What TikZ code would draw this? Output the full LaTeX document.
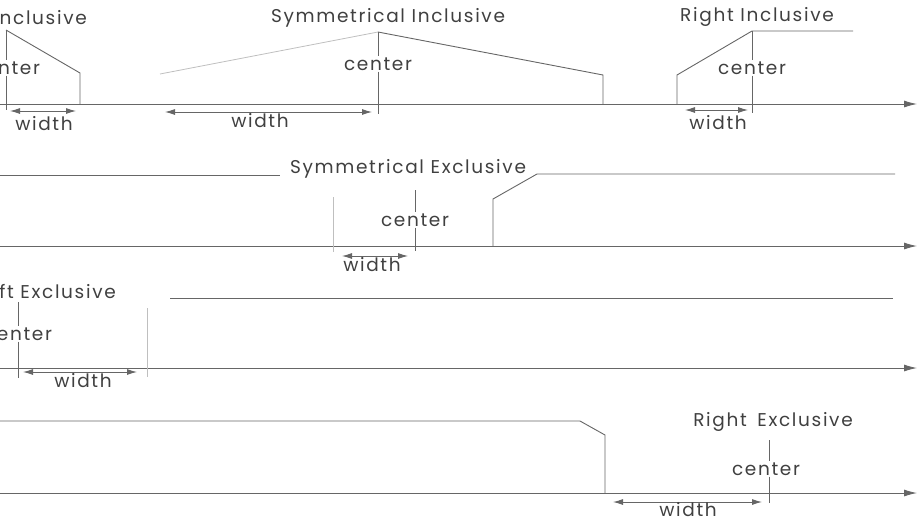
\documentclass[tikz,border=0pt]{standalone}
\usepackage{fontspec}
\setmainfont{Poppins}
\newfontfamily\lblfont[LetterSpace=9]{Poppins}
\usetikzlibrary{arrows.meta}
\begin{document}
\begin{tikzpicture}[x=1pt,y=-1pt,
  ln/.style={draw=black!60, line width=0.9pt},
  faint/.style={draw=black!25, line width=0.8pt},
  axis/.style={ln, -{Latex[length=13pt,width=7pt]}},
  dim/.style={ln, {Latex[length=10pt,width=6pt]}-{Latex[length=10pt,width=6pt]}},
  lbl/.style={font=\lblfont\fontsize{18.5}{18.5}\selectfont, text=black!75, inner sep=1pt},
  ]
\useasboundingbox (0,0) rectangle (917,520);
\clip (0,0) rectangle (917,520);

% ---------- Row 1 ----------
\coordinate (a1s) at (0,104); \coordinate (a1e) at (917,104);
\draw[axis] (a1s) -- (a1e);

% Left Inclusive
\node[lbl, anchor=east] (liT) at (88,18) {Left Inclusive};
\coordinate (liP) at (6,30); \coordinate (liR) at (80,73); \coordinate (liRb) at (80,104);
\draw[ln] (liP) -- (liR) -- (liRb);
\node[lbl] (liC) at (6,68) {center};
\coordinate (liB) at (6,110);
\draw[ln] (liP) -- (liC.north);
\draw[ln] (liC.south) -- (liB);
\coordinate (liW1) at (10,111); \coordinate (liW2) at (76,111);
\draw[dim] (liW1) -- (liW2);
\node[lbl] (liW) at (44,124) {width};

% Symmetrical Inclusive
\node[lbl] (siT) at (388,18) {Symmetrical Inclusive};
\coordinate (siL) at (160,74); \coordinate (siP) at (378,32);
\coordinate (siR) at (603,75); \coordinate (siRb) at (603,104);
\draw[faint] (siL) -- (siP);
\draw[ln] (siP) -- (siR) -- (siRb);
\node[lbl] (siC) at (378,64) {center};
\coordinate (siB) at (378,114);
\draw[ln] (siP) -- (siC.north);
\draw[ln] (siC.south) -- (siB);
\coordinate (siW1) at (165,112); \coordinate (siW2) at (372,112);
\draw[dim] (siW1) -- (siW2);
\node[lbl] (siW) at (260,121) {width};

% Right Inclusive
\node[lbl] (riT) at (757,17) {Right Inclusive};
\coordinate (riB) at (677,104); \coordinate (riL) at (677,75);
\coordinate (riP) at (752,31); \coordinate (riE) at (853,31);
\draw[ln] (riB) -- (riL) -- (riP) -- (riE);
\node[lbl] (riC) at (752,68) {center};
\coordinate (riBt) at (752,113);
\draw[ln] (riP) -- (riC.north);
\draw[ln] (riC.south) -- (riBt);
\coordinate (riW1) at (685,110); \coordinate (riW2) at (748,110);
\draw[dim] (riW1) -- (riW2);
\node[lbl] (riW) at (718,123) {width};

% ---------- Row 2 ----------
\coordinate (a2s) at (0,246); \coordinate (a2e) at (917,246);
\draw[axis] (a2s) -- (a2e);

\node[lbl] (seT) at (408,169) {Symmetrical Exclusive};
\coordinate (seA) at (0,175); \coordinate (seB) at (280,175);
\draw[ln] (seA) -- (seB);
\coordinate (seRb) at (493,246); \coordinate (seRl) at (493,199);
\coordinate (seRt) at (537,174); \coordinate (seRe) at (895,174);
\draw[ln] (seRb) -- (seRl) -- (seRt) -- (seRe);
\coordinate (seF1) at (333,197); \coordinate (seF2) at (333,252);
\draw[faint] (seF1) -- (seF2);
\node[lbl] (seC) at (415,220) {center};
\coordinate (seCt) at (415,190); \coordinate (seCb) at (415,251);
\draw[ln] (seCt) -- (seC.north);
\draw[ln] (seC.south) -- (seCb);
\coordinate (seW1) at (342,256); \coordinate (seW2) at (408,256);
\draw[dim] (seW1) -- (seW2);
\node[lbl] (seW) at (372,265) {width};

% ---------- Row 3 ----------
\coordinate (a3s) at (0,368); \coordinate (a3e) at (917,368);
\draw[axis] (a3s) -- (a3e);

\node[lbl, anchor=east] (leT) at (117,292) {Left Exclusive};
\node[lbl] (leC) at (18,334) {center};
\coordinate (leCt) at (18,302); \coordinate (leCb) at (18,378);
\draw[ln] (leCt) -- (leC.north);
\draw[ln] (leC.south) -- (leCb);
\coordinate (leF1) at (147,308); \coordinate (leF2) at (147,377);
\draw[faint] (leF1) -- (leF2);
\coordinate (leW1) at (23,372); \coordinate (leW2) at (137,372);
\draw[dim] (leW1) -- (leW2);
\node[lbl] (leW) at (83,381) {width};
\coordinate (leH1) at (170,298); \coordinate (leH2) at (893,298);
\draw[ln] (leH1) -- (leH2);

% ---------- Row 4 ----------
\coordinate (a4s) at (0,493); \coordinate (a4e) at (917,493);
\draw[axis] (a4s) -- (a4e);

\coordinate (reA) at (0,421); \coordinate (reB) at (580,421);
\coordinate (reC1) at (605,435); \coordinate (reD) at (605,493);
\draw[ln] (reA) -- (reB) -- (reC1) -- (reD);
\node[lbl] (reT) at (773,422) {Right\hspace{4pt} Exclusive};
\node[lbl] (reC) at (766,469) {center};
\coordinate (reCt) at (769,440); \coordinate (reCb) at (769,503);
\draw[ln] (reCt) -- (reCt |- reC.north);
\draw[ln] (reCb |- reC.south) -- (reCb);
\coordinate (reW1) at (613,502); \coordinate (reW2) at (762,502);
\draw[dim] (reW1) -- (reW2);
\node[lbl] (reW) at (688,510) {width};
\end{tikzpicture}
\end{document}
